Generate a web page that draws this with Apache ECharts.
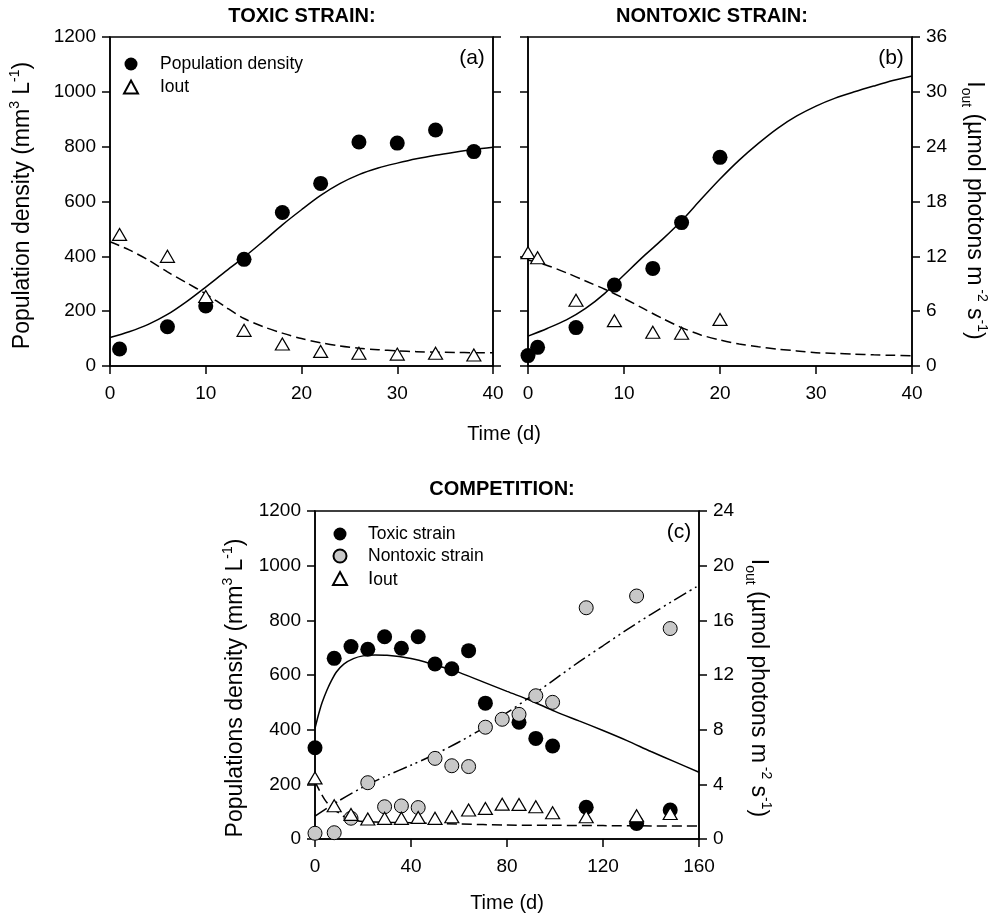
<!DOCTYPE html>
<html>
<head>
<meta charset="utf-8">
<title>Toxic vs nontoxic strain</title>
<script src="https://cdn.jsdelivr.net/npm/echarts@6/dist/echarts.min.js"></script>
<style>
  html, body { margin: 0; padding: 0; background: #fff; }
  #chart { width: 993px; height: 918px; }
</style>
</head>
<body>
<div id="chart"></div>
<script>
// ---- panel (a) toxic strain ----
const dayA = [1, 6, 10, 14, 18, 22, 26, 30, 34, 38];
const densA = [62, 143, 219, 389, 560, 666, 817, 813, 861, 782];
const ioutA = [14.4, 12.0, 7.6, 3.9, 2.4, 1.6, 1.4, 1.3, 1.4, 1.2];
const fitDayA = [0, 2, 4, 6, 8, 10, 12, 14, 16, 18, 20, 22, 24, 26, 28, 30, 32, 34, 36, 38, 40];
const fitDensA = [104, 125, 152, 188, 235, 288, 343, 397, 455, 515, 570, 622, 665, 698, 722, 740, 756, 769, 780, 790, 798];
const fitIoutA = [13.6, 12.7, 11.6, 10.3, 9.1, 7.9, 6.5, 5.2, 4.3, 3.6, 3.0, 2.55, 2.2, 1.95, 1.78, 1.65, 1.57, 1.51, 1.48, 1.46, 1.45];

// ---- panel (b) nontoxic strain ----
const dayB = [0, 1, 5, 9, 13, 16, 20];
const densB = [38, 68, 140, 295, 356, 523, 761];
const ioutB = [12.4, 11.85, 7.2, 4.96, 3.69, 3.58, 5.1];
const fitDayB = [0, 2, 4, 6, 8, 10, 12, 14, 16, 18, 20, 22, 24, 26, 28, 30, 32, 34, 36, 38, 40];
const fitDensB = [109, 137, 168, 210, 265, 332, 399, 462, 530, 607, 682, 751, 812, 867, 912, 948, 977, 1000, 1021, 1041, 1058];
const fitIoutB = [11.6, 11.0, 10.2, 9.3, 8.4, 7.4, 6.3, 5.2, 4.2, 3.4, 2.85, 2.4, 2.1, 1.85, 1.65, 1.46, 1.38, 1.3, 1.22, 1.17, 1.13];

// ---- panel (c) competition ----
const dayC = [0, 8, 15, 22, 29, 36, 43, 50, 57, 64, 71, 78, 85, 92, 99, 113, 134, 148];
const toxicC = [334, 661, 704, 694, 740, 698, 740, 640, 623, 689, 497, null, 427, 368, 340, 116, 57, 106];
const nontoxicC = [21, 23, 76, 206, 118, 121, 115, 295, 268, 265, 409, 438, 456, 524, 500, 846, 889, 770];
const ioutC = [4.47, 2.43, 1.80, 1.46, 1.51, 1.51, 1.58, 1.51, 1.63, 2.12, 2.24, 2.55, 2.53, 2.36, 1.92, 1.63, 1.70, 1.87];
const fitDayToxC = [0, 1, 2, 3, 5, 7, 9, 12, 16, 20, 25, 30, 40, 50, 58, 70, 80, 90, 100, 110, 120, 130, 140, 150, 160];
const fitToxC = [405, 440, 472, 500, 545, 582, 612, 640, 660, 670, 673, 672, 660, 637, 616, 575, 540, 506, 467, 432, 397, 360, 320, 282, 244];
const fitDayNonC = [0, 10, 20, 30, 40, 50, 60, 70, 80, 90, 100, 110, 120, 130, 140, 150, 160];
const fitNonC = [84, 140, 190, 232, 270, 310, 355, 405, 462, 522, 585, 648, 707, 766, 822, 876, 928];
const fitDayIoutC = [0, 2, 4, 6, 8, 10, 13, 16, 20, 30, 40, 60, 80, 100, 120, 140, 160];
const fitIoutC = [4.2, 3.5, 2.9, 2.45, 2.15, 1.9, 1.55, 1.38, 1.28, 1.22, 1.19, 1.1, 1.02, 1.0, 0.98, 0.96, 0.95];

const FONT = 'Liberation Sans, Arial, Helvetica, sans-serif';

function pairs(xs, ys) {
  return xs.map((x, i) => [x, ys[i]]);
}

// rotated axis titles, with super/subscripts
const richName = {
  t: { fontSize: 23, fontFamily: FONT, color: '#000', lineHeight: 30, verticalAlign: 'middle' },
  s: { fontSize: 14, fontFamily: FONT, color: '#000', lineHeight: 14, verticalAlign: 'top' },
  o: { fontSize: 14, fontFamily: FONT, color: '#000', lineHeight: 12, verticalAlign: 'bottom' }
};
const densName = '{t|Population density (mm}{s|3}{t| L}{s|-1}{t|)}';
const densNameC = '{t|Populations density (mm}{s|3}{t| L}{s|-1}{t|)}';
const ioutName = '{t|I}{o|out}{t| (µmol photons m}{s| -2}{t| s}{s|-1}{t|)}';

function xAx(grid, max, interval, name) {
  return {
    type: 'value', gridIndex: grid, min: 0, max: max, interval: interval,
    axisLine: { show: true, lineStyle: { color: '#000', width: 1.5 } },
    axisTick: { show: true, length: 8, lineStyle: { color: '#000', width: 1.5 } },
    axisLabel: { fontSize: 19, fontFamily: FONT, color: '#000', margin: 18 },
    splitLine: { show: false },
    name: name || '', nameLocation: 'middle', nameGap: 54,
    nameTextStyle: { fontSize: 20, fontFamily: FONT, color: '#000' }
  };
}

// pad shifts the rotated title along the axis
function yAx(grid, pos, max, interval, showLabel, name, gap, rot, pad) {
  return {
    type: 'value', gridIndex: grid, position: pos, min: 0, max: max, interval: interval,
    axisLine: { show: true, onZero: false, lineStyle: { color: '#000', width: 1.5 } },
    axisTick: { show: true, length: 8, lineStyle: { color: '#000', width: 1.5 } },
    axisLabel: { show: showLabel, fontSize: 19, fontFamily: FONT, color: '#000', margin: 14, formatter: v => String(v) },
    splitLine: { show: false },
    name: name || '', nameLocation: 'middle', nameGap: gap || 0, nameRotate: rot,
    nameTextStyle: { rich: richName, padding: pad || 0 }
  };
}

const dot = { color: '#000', opacity: 1 };
const grey = { color: '#c8c8c8', borderColor: '#000', borderWidth: 1, opacity: 1 };
const tri = { color: '#fff', borderColor: '#000', borderWidth: 1.2, opacity: 1 };

function scatter(name, xi, yi, data, style, symbol, size, z) {
  return {
    name: name, type: 'scatter', xAxisIndex: xi, yAxisIndex: yi,
    data: data, symbol: symbol, symbolSize: size, itemStyle: style, z: z
  };
}

function curve(name, xi, yi, data, dash) {
  return {
    name: name, type: 'line', xAxisIndex: xi, yAxisIndex: yi, data: data,
    showSymbol: false, smooth: 0.3, z: 1,
    lineStyle: { color: '#000', width: 1.5, type: dash },
    emphasis: { disabled: true }
  };
}

const legendText = { fontSize: 17.5, fontFamily: FONT, color: '#000', padding: [0, 0, 0, 17] };

function label(x, y, text, font) {
  return { type: 'text', x: x, y: y, style: { text: text, font: font, fill: '#000', align: 'center', verticalAlign: 'middle' } };
}

const chart = echarts.init(document.getElementById('chart'), null, { renderer: 'canvas' });

const option = {
  backgroundColor: '#fff',
  animation: false,
  grid: [
    { left: 110, top: 37, width: 383, height: 329, show: true, borderColor: '#000', borderWidth: 1.5 },
    { left: 528, top: 37, width: 384, height: 329, show: true, borderColor: '#000', borderWidth: 1.5 },
    { left: 315, top: 511, width: 384, height: 328, show: true, borderColor: '#000', borderWidth: 1.5 }
  ],
  xAxis: [
    xAx(0, 40, 10),
    xAx(1, 40, 10),
    xAx(2, 160, 40, 'Time (d)')
  ],
  yAxis: [
    yAx(0, 'left', 1200, 200, true, densName, 72, 90, [0, 8, 0, 0]),
    yAx(0, 'right', 36, 6, false),
    yAx(1, 'left', 1200, 200, false),
    yAx(1, 'right', 36, 6, true, ioutName, 47, -90, [0, 0, 0, 18]),
    yAx(2, 'left', 1200, 200, true, densNameC, 64, 90, [0, 26, 0, 0]),
    yAx(2, 'right', 24, 4, true, ioutName, 44, -90, [0, 0, 0, 26])
  ],
  legend: [
    {
      data: ['Population density', 'Iout'], orient: 'vertical', left: 123, top: 55, padding: 0,
      itemWidth: 14, itemHeight: 13, itemGap: 5, selectedMode: false,
      textStyle: legendText
    },
    {
      data: ['Toxic strain', 'Nontoxic strain', 'Iout (c)'], orient: 'vertical', left: 332, top: 525, padding: 0,
      itemWidth: 14, itemHeight: 13, itemGap: 4, selectedMode: false,
      formatter: function (n) { return n === 'Iout (c)' ? '{m|I}{o|out}' : n; },
      textStyle: Object.assign({}, legendText, {
        padding: [0, 0, 0, 16],
        rich: {
          m: { fontSize: 19, fontFamily: FONT, color: '#000', lineHeight: 22, verticalAlign: 'middle' },
          o: { fontSize: 17.5, fontFamily: FONT, color: '#000', lineHeight: 15, verticalAlign: 'bottom' }
        }
      })
    }
  ],
  graphic: [
    label(302, 16, 'TOXIC STRAIN:', 'bold 20px ' + FONT),
    label(712, 16, 'NONTOXIC STRAIN:', 'bold 20px ' + FONT),
    label(502, 489, 'COMPETITION:', 'bold 20px ' + FONT),
    label(472, 58, '(a)', '21px ' + FONT),
    label(891, 58, '(b)', '21px ' + FONT),
    label(679, 532, '(c)', '21px ' + FONT),
    label(504, 434, 'Time (d)', '20px ' + FONT)
  ],
  series: [
    // (a)
    curve('fit a dens', 0, 0, pairs(fitDayA, fitDensA), 'solid'),
    curve('fit a iout', 0, 1, pairs(fitDayA, fitIoutA), [10, 5]),
    scatter('Population density', 0, 0, pairs(dayA, densA), dot, 'circle', 15, 3),
    scatter('Iout', 0, 1, pairs(dayA, ioutA), tri, 'triangle', [14, 12], 4),
    // (b)
    curve('fit b dens', 1, 2, pairs(fitDayB, fitDensB), 'solid'),
    curve('fit b iout', 1, 3, pairs(fitDayB, fitIoutB), [10, 5]),
    scatter('Nontoxic density', 1, 2, pairs(dayB, densB), dot, 'circle', 15, 3),
    scatter('Nontoxic Iout', 1, 3, pairs(dayB, ioutB), tri, 'triangle', [14, 12], 4),
    // (c)
    curve('fit c toxic', 2, 4, pairs(fitDayToxC, fitToxC), 'solid'),
    curve('fit c nontoxic', 2, 4, pairs(fitDayNonC, fitNonC), [14, 4, 2, 4, 2, 4]),
    curve('fit c iout', 2, 5, pairs(fitDayIoutC, fitIoutC), [10, 5]),
    scatter('Toxic strain', 2, 4, pairs(dayC, toxicC), dot, 'circle', 15, 3),
    scatter('Nontoxic strain', 2, 4, pairs(dayC, nontoxicC), grey, 'circle', 14, 4),
    scatter('Iout (c)', 2, 5, pairs(dayC, ioutC), tri, 'triangle', [14, 12], 5)
  ]
};

chart.setOption(option);
</script>
</body>
</html>
